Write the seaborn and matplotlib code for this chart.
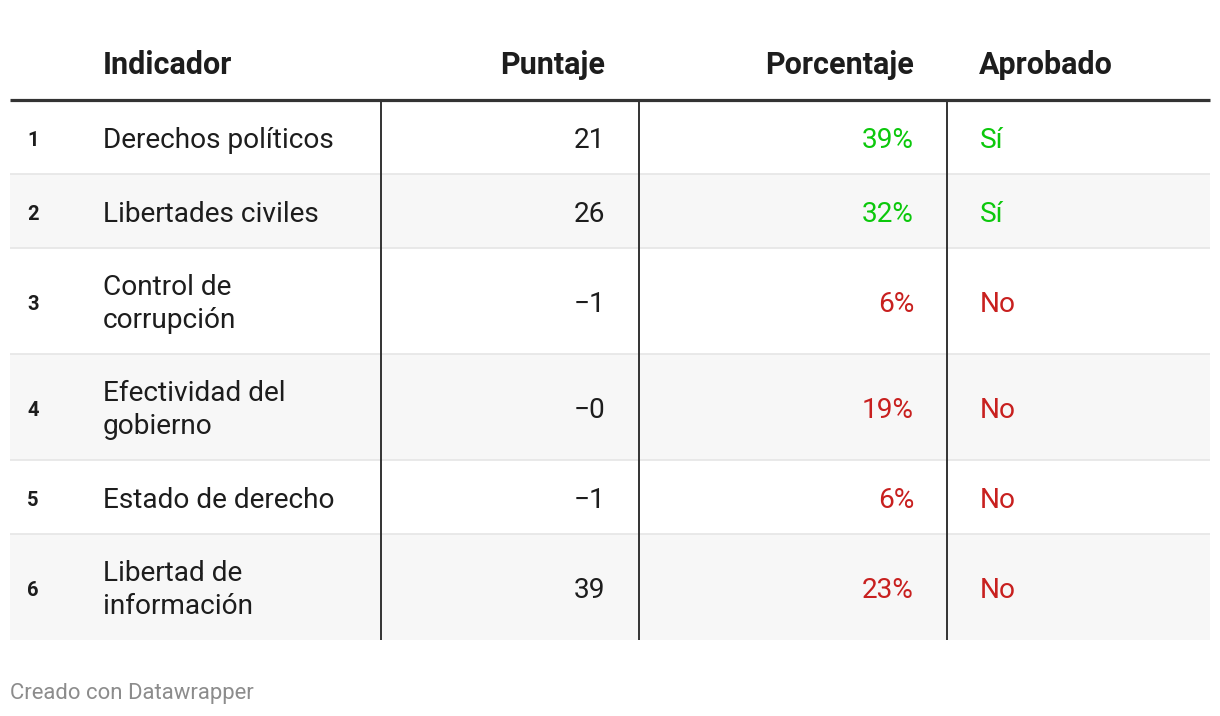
import matplotlib
matplotlib.use("Agg")
import matplotlib.pyplot as plt
import seaborn as sns

# ---- data ----
row_numbers = ["1", "2", "3", "4", "5", "6"]
indicators = ["Derechos políticos", "Libertades civiles", "Control de\ncorrupción",
              "Efectividad del\ngobierno", "Estado de derecho", "Libertad de\ninformación"]
scores = ["21", "26", "\u22121", "\u22120", "\u22121", "39"]
percentages = ["39%", "32%", "6%", "19%", "6%", "23%"]
approved = ["Sí", "Sí", "No", "No", "No", "No"]
headers = ["Indicador", "Puntaje", "Porcentaje", "Aprobado"]
footer = "Creado con Datawrapper"

sns.set_theme(style="white")
plt.rcParams["font.family"] = ["Roboto", "DejaVu Sans"]

W, H = 1220, 716
fig = plt.figure(figsize=(W / 100, H / 100), dpi=100)
ax = fig.add_axes([0, 0, 1, 1])
ax.set_xlim(0, W)
ax.set_ylim(H, 0)
ax.axis("off")

GREEN = "#0cc80c"
RED = "#c8201f"
DARK = "#1d1d1d"

left, right = 10, 1210
header_y = 65
top = 100
one_line, two_line = 74, 106

# row bounds
bounds = [top]
for ind in indicators:
    h = two_line if "\n" in ind else one_line
    bounds.append(bounds[-1] + h)

# backgrounds
for i in range(len(indicators)):
    y0, y1 = bounds[i], bounds[i + 1]
    if i % 2 == 1:
        ax.fill_between([left, right], y0, y1, color="#f7f7f7", lw=0, zorder=0)
    if i > 0:
        ax.plot([left, right], [y0, y0], color="#e5e5e5", lw=1.2, zorder=1,
                solid_capstyle="butt")

# header line
ax.plot([left, right], [top, top], color="#333333", lw=2.3, zorder=3,
        solid_capstyle="butt")

# vertical separators
for x in [381, 639, 947]:
    ax.plot([x, x], [top + 1, bounds[-1]], color="#333333", lw=1.4, zorder=3,
            solid_capstyle="butt")

# headers
hfs = 22
ax.text(103, header_y, headers[0], ha="left", va="center", fontsize=hfs,
        fontweight="bold", color=DARK)
ax.text(605, header_y, headers[1], ha="right", va="center", fontsize=hfs,
        fontweight="bold", color=DARK)
ax.text(914, header_y, headers[2], ha="right", va="center", fontsize=hfs,
        fontweight="bold", color=DARK)
ax.text(979, header_y, headers[3], ha="left", va="center", fontsize=hfs,
        fontweight="bold", color=DARK)

fs = 20.2
for i in range(len(indicators)):
    yc = (bounds[i] + bounds[i + 1]) / 2 + 3
    ax.text(27, yc, row_numbers[i], ha="left", va="center", fontsize=14.5,
            fontweight="bold", color=DARK)
    ax.text(103, yc, indicators[i], ha="left", va="center", fontsize=fs,
            color=DARK, linespacing=1.26)
    ax.text(605, yc, scores[i], ha="right", va="center", fontsize=fs, color=DARK)
    col = GREEN if approved[i] == "Sí" else RED
    ax.text(914, yc, percentages[i], ha="right", va="center", fontsize=fs, color=col)
    ax.text(980, yc, approved[i], ha="left", va="center", fontsize=fs, color=col)

ax.text(10, 693, footer, ha="left", va="center", fontsize=15.9, color="#8c8c8c")

fig.savefig("out.png", dpi=100)
